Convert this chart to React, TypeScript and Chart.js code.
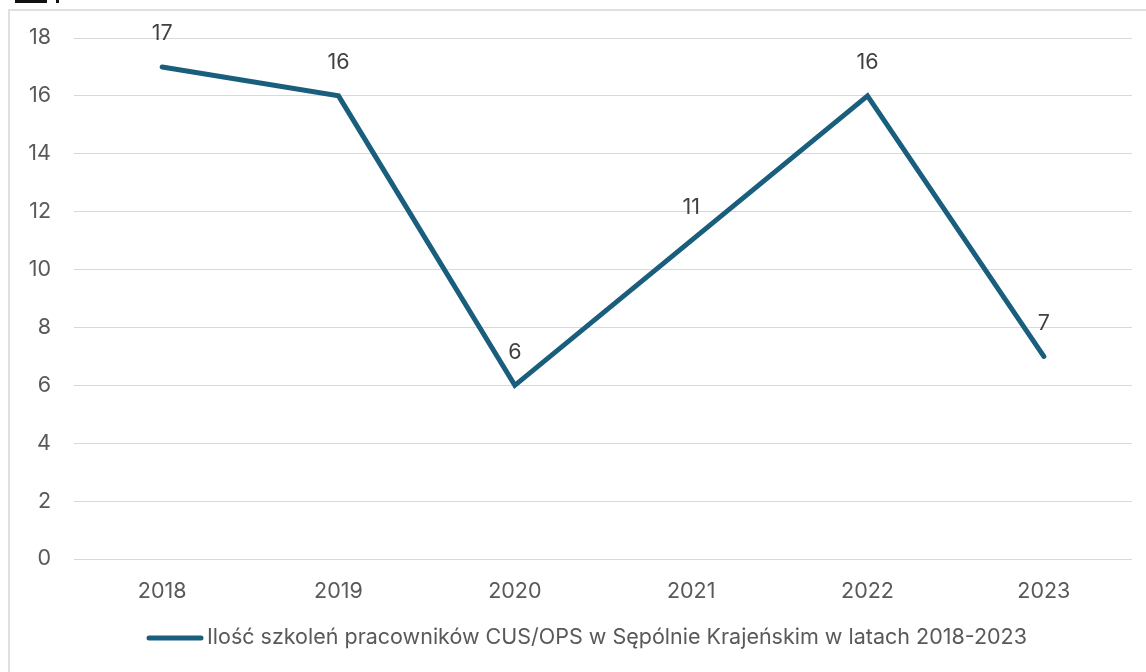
import React, { useEffect, useRef } from "react";
import { Chart, registerables } from "chart.js";

Chart.register(...registerables);

const years: string[] = ["2018", "2019", "2020", "2021", "2022", "2023"];
const trainings: number[] = [17, 16, 6, 11, 16, 7];
const seriesLabel = "Ilość szkoleń pracowników CUS/OPS w Sępólnie Krajeńskim w latach 2018-2023";
const yMin = 0;
const yMax = 18;
const yStep = 2;

const LINE_COLOR = "#1a5e7e";
const TEXT_COLOR = "#595959";
const LABEL_COLOR = "#404040";
const GRID_COLOR = "#d9d9d9";
const FONT_FAMILY = "Inter, 'Noto Sans', sans-serif";
const FONT_SIZE = 21.5;

const dataLabelPlugin = {
  id: "dataLabels",
  afterDatasetsDraw(chart: any) {
    const ctx = chart.ctx;
    const meta = chart.getDatasetMeta(0);
    const values = chart.data.datasets[0].data as number[];
    ctx.save();
    ctx.font = `${FONT_SIZE}px ${FONT_FAMILY}`;
    ctx.fillStyle = LABEL_COLOR;
    ctx.textAlign = "center";
    ctx.textBaseline = "middle";
    meta.data.forEach((pt: any, i: number) => {
      ctx.fillText(String(values[i]), pt.x, pt.y - 33);
    });
    ctx.restore();
  },
};

const legendPlugin = {
  id: "customLegend",
  afterDraw(chart: any) {
    const ctx = chart.ctx;
    const label = chart.data.datasets[0].label as string;
    ctx.save();
    ctx.font = `${FONT_SIZE}px ${FONT_FAMILY}`;
    const tw = ctx.measureText(label).width;
    const lineW = 52;
    const gap = 6;
    const total = lineW + gap + tw;
    const center = 588;
    const x0 = center - total / 2;
    const y = 638;
    ctx.strokeStyle = LINE_COLOR;
    ctx.lineWidth = 5;
    ctx.lineCap = "round";
    ctx.beginPath();
    ctx.moveTo(x0, y);
    ctx.lineTo(x0 + lineW, y);
    ctx.stroke();
    ctx.fillStyle = TEXT_COLOR;
    ctx.textAlign = "left";
    ctx.textBaseline = "middle";
    ctx.fillText(label, x0 + lineW + gap, y);
    ctx.restore();
  },
};

export default function App() {
  const canvasRef = useRef<HTMLCanvasElement | null>(null);

  useEffect(() => {
    if (!canvasRef.current) return;
    const chart = new Chart(canvasRef.current, {
      type: "line",
      data: {
        labels: years,
        datasets: [
          {
            label: seriesLabel,
            data: trainings,
            borderColor: LINE_COLOR,
            backgroundColor: LINE_COLOR,
            borderWidth: 5,
            pointRadius: 0,
            pointHoverRadius: 0,
            tension: 0,
            borderCapStyle: "round",
            borderJoinStyle: "miter",
          },
        ],
      },
      options: {
        animation: false,
        responsive: false,
        maintainAspectRatio: false,
        layout: { padding: { top: 38, right: 14, left: 0, bottom: 53 } },
        plugins: {
          legend: { display: false },
          tooltip: { enabled: false },
        },
        scales: {
          x: {
            offset: true,
            grid: { display: false, drawTicks: false },
            border: { display: false },
            ticks: {
              color: TEXT_COLOR,
              font: { family: FONT_FAMILY, size: FONT_SIZE },
              padding: 20,
            },
            afterFit(scale: any) {
              scale.height = 60;
            },
          },
          y: {
            min: yMin,
            max: yMax,
            grid: { color: GRID_COLOR, lineWidth: 1, drawTicks: false },
            border: { display: false },
            ticks: {
              stepSize: yStep,
              color: TEXT_COLOR,
              font: { family: FONT_FAMILY, size: FONT_SIZE },
              padding: 23,
            },
            afterFit(scale: any) {
              scale.width = 74;
            },
          },
        },
      },
      plugins: [dataLabelPlugin, legendPlugin],
    });
    return () => chart.destroy();
  }, []);

  return (
    <div
      style={{
        position: "fixed",
        left: 0,
        top: 0,
        width: 1146,
        height: 672,
        overflow: "hidden",
        background: "#ffffff",
      }}
    >
      <div style={{ position: "absolute", left: 15, top: 0, width: 32, height: 3, background: "#111" }} />
      <div style={{ position: "absolute", left: 56, top: 0, width: 3, height: 3, background: "#111" }} />
      <div
        style={{
          position: "absolute",
          left: 8,
          top: 9,
          width: 1200,
          height: 700,
          border: "2px solid #e0e0e0",
          boxSizing: "border-box",
        }}
      />
      <canvas
        ref={canvasRef}
        width={1146}
        height={672}
        style={{ position: "absolute", left: 0, top: 0, width: 1146, height: 672 }}
      />
    </div>
  );
}
